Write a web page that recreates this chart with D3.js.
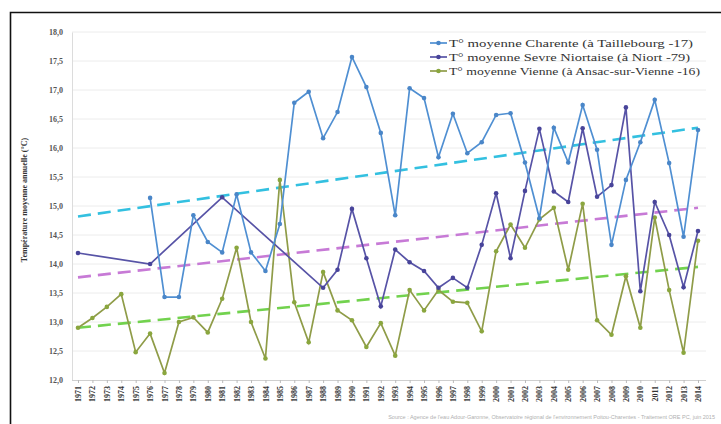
<!DOCTYPE html>
<html><head><meta charset="utf-8">
<script src="https://cdn.jsdelivr.net/npm/d3@7"></script>
<style>
html,body{margin:0;padding:0;background:#fff;}
svg{display:block;}
</style></head>
<body>
<svg id="c" width="721" height="424"></svg>
<script>
const years = d3.range(1971, 2015);
const yTicks = [12, 12.5, 13, 13.5, 14, 14.5, 15, 15.5, 16, 16.5, 17, 17.5, 18];
const seriesNames = [
  "T° moyenne Charente (à Taillebourg -17)",
  "T° moyenne Sevre Niortaise (à Niort -79)",
  "T° moyenne Vienne (à Ansac-sur-Vienne -16)"
];
const charente = [null,null,null,null,null,
  15.14,13.43,13.43,14.84,14.38,14.2,15.2,14.2,13.88,14.69,
  16.78,16.97,16.17,16.62,17.57,17.05,16.26,14.84,17.03,16.86,
  15.84,16.59,15.91,16.1,16.57,16.6,15.75,14.79,16.35,15.75,
  16.74,15.97,14.33,15.45,16.1,16.83,15.74,14.47,16.31];
const sevre = [14.19,null,null,null,null,
  14.0,null,null,null,null,15.15,null,null,null,null,
  null,null,13.59,13.9,14.95,14.1,13.27,14.25,14.03,13.88,
  13.59,13.76,13.59,14.33,15.22,14.1,15.26,16.33,15.25,15.07,
  16.34,15.16,15.36,16.7,13.53,15.07,14.5,13.6,14.57];
const vienne = [12.9,13.07,13.26,13.48,12.48,12.8,12.12,13.0,13.08,12.82,
  13.4,14.28,13.0,12.37,15.45,13.34,12.65,13.86,13.2,13.03,
  12.57,12.98,12.42,13.55,13.2,13.55,13.35,13.33,12.84,14.22,
  14.68,14.28,14.77,14.97,13.9,15.04,13.03,12.78,13.79,12.9,
  14.8,13.55,12.47,14.4];
const trendYears = [1971, 2014];
const charenteTrend = [14.82, 16.35];
const sevreTrend = [13.77, 14.97];
const vienneTrend = [12.9, 13.95];
const sourceText = "Source : Agence de l'eau Adour-Garonne, Observatoire régional de l'environnement Poitou-Charentes - Traitement ORE PC, juin 2015";

const lineColors = ["#4f8fd2", "#5753a6", "#8f9c48"];
const markerColors = ["#4a86c8", "#48449a", "#8aa63e"];
const trendColors = ["#33c0e0", "#c77ad6", "#72d24e"];

const svg = d3.select("#c");
const x = d3.scaleLinear().domain([1971, 2014]).range([78, 698]);
const y = d3.scaleLinear().domain([12, 18]).range([380, 32]);

// frame
svg.append("path").attr("d","M10.5,430 L10.5,12.5 L730,12.5").attr("fill","none").attr("stroke","#111").attr("stroke-width",1.6);

// gridlines
svg.append("g").selectAll("line").data(yTicks.slice(1)).join("line")
  .attr("x1",72).attr("x2",706).attr("y1",d=>y(d)).attr("y2",d=>y(d))
  .attr("stroke","#ececec").attr("stroke-width",1);

// y axis
const yAxis = d3.axisLeft(y).tickValues(yTicks).tickSize(0).tickPadding(9)
  .tickFormat(d=>d3.format(".1f")(d).replace(".", ","));
const gy = svg.append("g").attr("transform","translate(72,0)").call(yAxis);
gy.select(".domain").attr("stroke","#dcdcdc");
gy.selectAll("text").attr("font-family","'Liberation Serif', serif").attr("font-size",8)
  .attr("font-weight","bold").attr("fill","#555");

// x axis
const xAxis = d3.axisBottom(x).tickValues(years).tickSize(3).tickFormat(d=>String(d));
const gx = svg.append("g").attr("transform","translate(0,380)").call(xAxis);
gx.select(".domain").attr("stroke","#cfcfcf").attr("d","M72,0.5H706");
gx.selectAll(".tick line").attr("stroke","#bbb");
gx.selectAll("text").attr("font-family","'Liberation Serif', serif").attr("font-size",8)
  .attr("font-weight","bold").attr("fill","#333")
  .attr("transform","rotate(-90)").attr("text-anchor","end")
  .attr("x",-6).attr("y",0).attr("dy","0.32em");

// y title
svg.append("text").attr("transform","translate(27,200) rotate(-90)")
  .attr("text-anchor","middle").attr("font-family","'Liberation Serif', serif")
  .attr("font-size",8).attr("font-weight","bold").attr("fill","#333")
  .text("Température moyenne annuelle (°C)");

// trend lines
const trends = [charenteTrend, sevreTrend, vienneTrend];
trends.forEach((t,i)=>{
  svg.append("line").attr("x1",x(trendYears[0])).attr("x2",x(trendYears[1]))
    .attr("y1",y(t[0])).attr("y2",y(t[1]))
    .attr("stroke",trendColors[i]).attr("stroke-width",2.6)
    .attr("stroke-dasharray","13,7");
});

// series
const allSeries = [charente, sevre, vienne];
const line = d3.line().x(d=>x(d.year)).y(d=>y(d.v));
[2,1,0].forEach(i=>{
  const pts = years.map((yr,k)=>({year:yr, v:allSeries[i][k]})).filter(d=>d.v!=null);
  svg.append("path").datum(pts).attr("d",line).attr("fill","none")
    .attr("stroke",lineColors[i]).attr("stroke-width",1.7);
  svg.append("g").selectAll("circle").data(pts).join("circle")
    .attr("cx",d=>x(d.year)).attr("cy",d=>y(d.v)).attr("r",2.3)
    .attr("fill",markerColors[i]);
});

// legend
const lg = svg.append("g");
seriesNames.forEach((name,i)=>{
  const yy = 43 + i*14;
  lg.append("line").attr("x1",430).attr("x2",447).attr("y1",yy).attr("y2",yy)
    .attr("stroke",lineColors[i]).attr("stroke-width",1.7);
  lg.append("circle").attr("cx",438.5).attr("cy",yy).attr("r",2.3).attr("fill",markerColors[i]);
  lg.append("text").attr("x",449).attr("y",yy).attr("dy","0.35em")
    .attr("font-family","'Liberation Serif', serif").attr("font-size",10.5)
    .attr("fill","#333").attr("textLength",[244,241,251][i]).attr("lengthAdjust","spacingAndGlyphs")
    .text(name);
});

// source
svg.append("text").attr("x",715).attr("y",419).attr("text-anchor","end")
  .attr("font-family","'Liberation Sans', sans-serif").attr("font-size",5.5)
  .attr("fill","#b0b0b0").text(sourceText);
</script>
</body></html>
